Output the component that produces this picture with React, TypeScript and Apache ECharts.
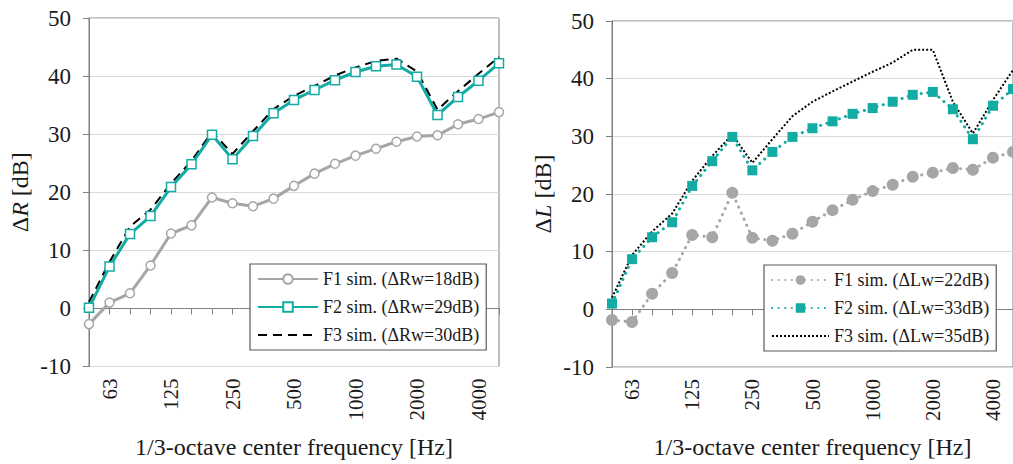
import React, { useEffect, useRef } from "react";
import * as echarts from "echarts";

const freqs = ["50", "63", "80", "100", "125", "160", "200", "250", "315", "400", "500", "630", "800", "1000", "1250", "1600", "2000", "2500", "3150", "4000", "5000"];
const yTicks = { min: -10, max: 50, interval: 10 };

const dRF1 = [-2.7, 1.0, 2.6, 7.4, 12.9, 14.3, 19.1, 18.1, 17.6, 18.9, 21.1, 23.2, 24.9, 26.3, 27.5, 28.7, 29.6, 29.8, 31.7, 32.6, 33.8];
const dRF2 = [0.1, 7.2, 12.8, 15.9, 20.9, 24.8, 29.9, 25.7, 29.7, 33.6, 35.9, 37.6, 39.3, 40.7, 41.7, 42.0, 39.9, 33.3, 36.4, 39.2, 42.2];
const dRF3 = [1.1, 8.0, 14.1, 17.0, 21.5, 25.4, 30.4, 26.6, 30.5, 34.3, 36.6, 38.3, 40.1, 41.5, 42.6, 43.0, 40.8, 34.2, 37.4, 40.4, 43.3];

const dLF1 = [-1.85, -2.2, 2.7, 6.3, 12.9, 12.5, 20.2, 12.4, 11.9, 13.1, 15.2, 17.2, 19.0, 20.5, 21.6, 23.0, 23.7, 24.5, 24.2, 26.3, 27.3];
const dLF2 = [1.0, 8.7, 12.5, 15.1, 21.4, 25.7, 29.9, 24.1, 27.3, 29.9, 31.4, 32.6, 33.9, 34.9, 36.0, 37.2, 37.7, 34.7, 29.5, 35.3, 38.2];
const dLF3 = [2.0, 9.4, 13.5, 16.6, 22.3, 26.6, 30.3, 25.4, 29.5, 33.5, 36.0, 37.8, 39.5, 41.2, 42.8, 45.0, 45.0, 36.0, 30.5, 36.3, 41.5];

const namesR = ["F1 sim. (ΔRw=18dB)", "F2 sim. (ΔRw=29dB)", "F3 sim. (ΔRw=30dB)"];
const namesL = ["F1 sim. (ΔLw=22dB)", "F2 sim. (ΔLw=33dB)", "F3 sim. (ΔLw=35dB)"];
const xTitle = "1/3-octave center frequency [Hz]";

const FONT = "'Liberation Serif', 'Times New Roman', Times, serif";
const GRAY = "#a6a6a6";
const TEAL = "#12aca4";
const AXIS = "#7f7f7f";
const TXT = "#1a1a1a";

export default function App() {
  const ref = useRef<HTMLDivElement>(null);
  useEffect(() => {
    document.body.style.margin = "0";
    const chart = echarts.init(ref.current!, null, { renderer: "svg" });

    const xAxisBase = (gridIndex: number) => ({
      type: "category",
      gridIndex,
      data: freqs,
      boundaryGap: false,
      name: xTitle,
      nameLocation: "middle",
      nameGap: 68,
      nameTextStyle: { fontFamily: FONT, fontSize: 24, color: TXT },
      axisLine: { lineStyle: { color: AXIS, width: 1 } },
      axisTick: { show: true, interval: 0, length: 6, lineStyle: { color: AXIS } },
      axisLabel: {
        interval: (i: number) => i % 3 === 1,
        rotate: 90,
        margin: 12,
        fontFamily: FONT,
        fontSize: 21,
        color: TXT,
      },
      splitLine: { show: false },
    });

    const yAxisBase = (gridIndex: number, letter: string) => ({
      type: "value",
      gridIndex,
      ...yTicks,
      name: "{a|Δ}{i|" + letter + "}{a| [dB]}",
      nameLocation: "middle",
      nameGap: 57,
      nameTextStyle: {
        rich: {
          a: { fontFamily: FONT, fontSize: 24, color: TXT },
          i: { fontFamily: FONT, fontSize: 24, fontStyle: "italic", color: TXT },
        },
      },
      axisLine: { show: true, lineStyle: { color: AXIS, width: 1 } },
      axisTick: { show: true, length: 6, lineStyle: { color: AXIS } },
      axisLabel: { margin: 18, fontFamily: FONT, fontSize: 23, color: TXT },
      splitLine: { show: true, lineStyle: { color: "#d9d9d9", width: 1 } },
    });

    const legendBase = (left: number, top: number, names: string[], itemWidth: number) => ({
      show: true,
      orient: "vertical",
      left,
      top,
      data: [names[0], names[1], { name: names[2], itemStyle: { opacity: 0 } }],
      itemWidth,
      itemHeight: 12,
      itemGap: 10,
      padding: [6, 7, 6, 7],
      borderColor: "#595959",
      borderWidth: 1.2,
      backgroundColor: "#ffffff",
      textStyle: { fontFamily: FONT, fontSize: 18, color: TXT, lineHeight: 18 },
    });

    chart.setOption({
      animation: false,
      backgroundColor: "#ffffff",
      grid: [
        { left: 89, width: 410, top: 18, height: 348.5, show: true, borderColor: AXIS, borderWidth: 1, containLabel: false },
        { left: 612, width: 408, top: 21, height: 347, show: true, borderColor: AXIS, borderWidth: 1, containLabel: false },
      ],
      xAxis: [xAxisBase(0), xAxisBase(1)],
      yAxis: [yAxisBase(0, "R"), yAxisBase(1, "L")],
      legend: [legendBase(250, 264, namesR, 60), legendBase(764, 265, namesL, 57)],
      series: [
        {
          name: namesR[0], type: "line", xAxisIndex: 0, yAxisIndex: 0, data: dRF1,
          symbol: "circle", symbolSize: 9, showAllSymbol: true,
          lineStyle: { color: GRAY, width: 3 },
          itemStyle: { color: "#ffffff", borderColor: GRAY, borderWidth: 1.5 },
          z: 2,
        },
        {
          name: namesR[2], type: "line", xAxisIndex: 0, yAxisIndex: 0, data: dRF3,
          symbol: "none", showSymbol: false,
          lineStyle: { color: "#000000", width: 2, type: [9, 6] },
          itemStyle: { color: "#000000" },
          z: 3,
        },
        {
          name: namesR[1], type: "line", xAxisIndex: 0, yAxisIndex: 0, data: dRF2,
          symbol: "rect", symbolSize: 9, showAllSymbol: true,
          lineStyle: { color: TEAL, width: 3 },
          itemStyle: { color: "#ffffff", borderColor: TEAL, borderWidth: 1.5 },
          z: 4,
        },
        {
          name: namesL[0], type: "line", xAxisIndex: 1, yAxisIndex: 1, data: dLF1,
          symbol: "circle", symbolSize: 12, showAllSymbol: true,
          lineStyle: { color: GRAY, width: 3, type: [0.1, 6.5], cap: "round" },
          itemStyle: { color: GRAY },
          z: 2,
        },
        {
          name: namesL[1], type: "line", xAxisIndex: 1, yAxisIndex: 1, data: dLF2,
          symbol: "rect", symbolSize: 10, showAllSymbol: true,
          lineStyle: { color: TEAL, width: 3, type: [0.1, 6.5], cap: "round" },
          itemStyle: { color: TEAL },
          z: 4,
        },
        {
          name: namesL[2], type: "line", xAxisIndex: 1, yAxisIndex: 1, data: dLF3,
          symbol: "none", showSymbol: false,
          lineStyle: { color: "#000000", width: 2, type: [2, 2] },
          itemStyle: { color: "#000000" },
          z: 3,
        },
      ],
    });
    return () => chart.dispose();
  }, []);
  return <div ref={ref} style={{ width: 1013, height: 464 }} />;
}
